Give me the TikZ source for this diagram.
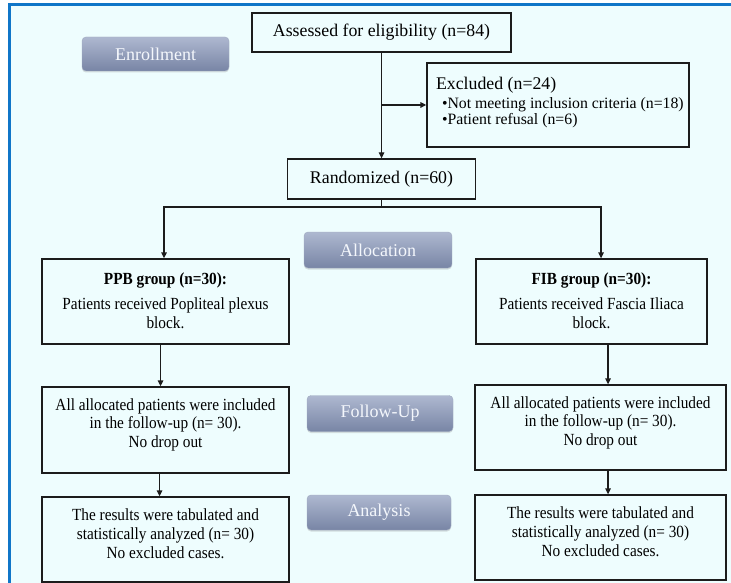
\documentclass[tikz,border=0pt]{standalone}
\usepackage{fontspec}
\setmainfont{Liberation Serif}
\newfontfamily\condf[FakeStretch=0.9]{Liberation Serif}
\usetikzlibrary{arrows.meta,shadows,calc}
\definecolor{bgc}{RGB}{238,253,254}
\definecolor{framec}{RGB}{16,118,200}
\definecolor{btntop}{RGB}{174,184,208}
\definecolor{btnbot}{RGB}{120,133,165}
\definecolor{btntext}{RGB}{244,247,252}
\definecolor{linec}{RGB}{28,28,28}
\newcommand\bxt[4]{\parbox[c][#2][t]{#1}{\centering\rule{0pt}{#3}#4}}
\begin{document}
\begin{tikzpicture}[x=1pt,y=-1pt,
  box/.style={draw=linec, line width=1.3pt, inner sep=0pt, text=black},
  btn/.style={rounded corners=4pt, top color=btntop, bottom color=btnbot,
    draw=btnbot!70!white, line width=0.4pt, text=btntext,
    font=\fontsize{18}{20}\selectfont,
    drop shadow={opacity=0.25, shadow xshift=0pt, shadow yshift=-1.5pt},
    inner sep=0pt},
  ln/.style={draw=linec, line width=1.3pt},
  arr/.style={draw=linec, line width=1.3pt, -{Triangle[length=6pt,width=5.5pt]}},
  bigf/.style={font=\fontsize{17.8}{20}\selectfont}
]
\useasboundingbox (0,0) rectangle (731,583);
\fill[white] (0,0) rectangle (731,583);
\fill[bgc] (9.5,4.5) rectangle (731,583);
\draw[framec, line width=2.5pt] (9.5,583) -- (9.5,4.5) -- (731,4.5);

% buttons
\node[btn, minimum width=147pt, minimum height=34pt] (enr) at (155.5,54) {Enrollment};
\node[btn, minimum width=148pt, minimum height=36pt] (alloc) at (378,250) {Allocation};
\node[btn, minimum width=146pt, minimum height=36pt] (fupb) at (380,413.5) {Follow-Up};
\node[btn, minimum width=144pt, minimum height=35pt] (anab) at (379,512.5) {Analysis};

% boxes
\node[box, bigf, minimum width=259pt, minimum height=39pt] (assess) at (381.5,32.5) {Assessed for eligibility (n=84)};
\node[box] (excl) at (558,105) {\parbox[c][84pt][t]{262pt}{\leftskip=9pt\rightskip=0pt plus 1fil
  \fontsize{17.8}{18}\selectfont\rule{0pt}{27pt}Excluded (n=24)\par\vspace{2.5pt}
  \fontsize{15.8}{16}\selectfont\hspace*{6pt}•Not meeting inclusion criteria (n=18)\par
  \hspace*{6pt}•Patient refusal (n=6)\par}};
\node[box, bigf, minimum width=188pt, minimum height=40pt] (rand) at (381.5,179) {Randomized (n=60)};

\node[box] (ppb) at (165.5,301.5) {\bxt{247pt}{85pt}{25pt}{\condf\fontsize{17}{19}\selectfont\textbf{PPB group (n=30):}\\[6pt]Patients received Popliteal plexus\\block.}};
\node[box] (fib) at (591.5,301.5) {\bxt{231pt}{85pt}{25pt}{\condf\fontsize{17}{19}\selectfont\textbf{FIB group (n=30):}\\[6pt]Patients received Fascia Iliaca\\block.}};

\node[box] (fupL) at (165.5,430) {\bxt{247pt}{86pt}{23pt}{\condf\fontsize{17}{18.7}\selectfont All allocated patients were included\\in the follow-up (n= 30).\\No drop out}};
\node[box] (fupR) at (600.5,427.5) {\bxt{251pt}{85pt}{23pt}{\condf\fontsize{17}{18.7}\selectfont All allocated patients were included\\in the follow-up (n= 30).\\No drop out}};

\node[box] (anaL) at (165.5,539.5) {\bxt{247pt}{85pt}{23pt}{\condf\fontsize{17}{19}\selectfont The results were tabulated and\\statistically analyzed (n= 30)\\No excluded cases.}};
\node[box] (anaR) at (600.5,537.5) {\bxt{251pt}{85pt}{23pt}{\condf\fontsize{17}{19}\selectfont The results were tabulated and\\statistically analyzed (n= 30)\\No excluded cases.}};

% connectors
\draw[arr] (assess.south) -- (rand.north);
\draw[arr] (assess.south |- excl.west) -- (excl.west);
\coordinate (br) at (381.5,207);
\draw[ln] (rand.south) -- (br);
\draw[arr] (br) -| ([xshift=-1.5pt]ppb.north);
\draw[arr] (br) -| ([xshift=9.5pt]fib.north);
\draw[arr] ([xshift=-5pt]ppb.south) -- ([xshift=-5pt]ppb.south |- fupL.north);
\draw[arr] ([xshift=-6pt]fupL.south) -- ([xshift=-6pt]fupL.south |- anaL.north);
\draw[arr] ([xshift=16.5pt]fib.south) -- ([xshift=16.5pt]fib.south |- fupR.north);
\draw[arr] ([xshift=7.5pt]fupR.south) -- ([xshift=7.5pt]fupR.south |- anaR.north);
\end{tikzpicture}
\end{document}
